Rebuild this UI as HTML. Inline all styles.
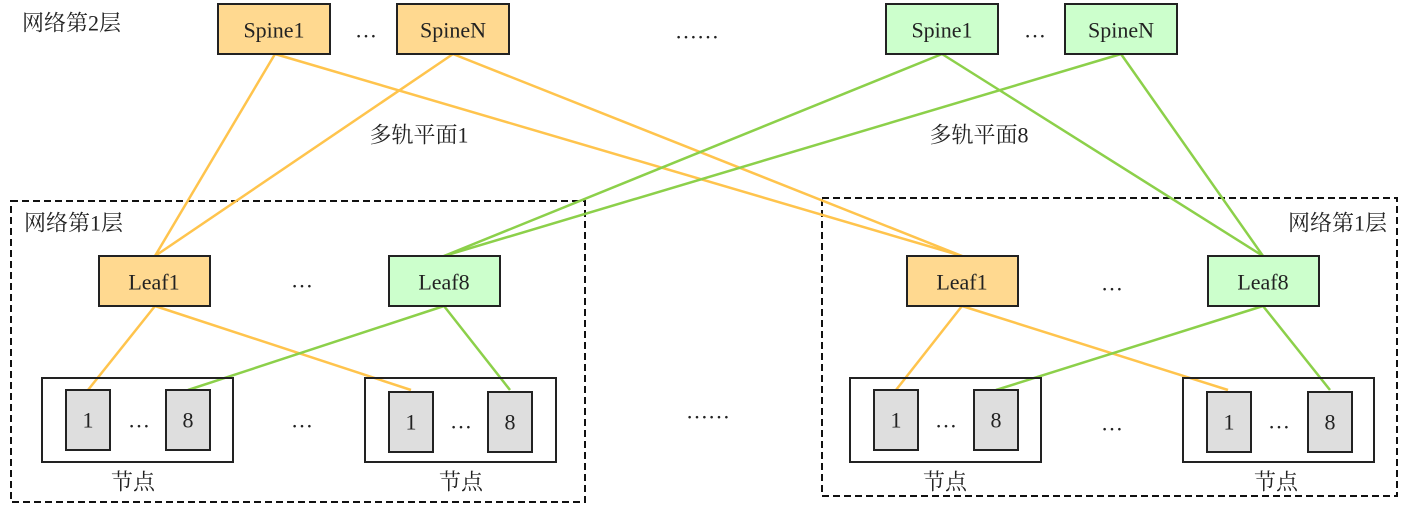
<!DOCTYPE html>
<html><head><meta charset="utf-8"><style>
html,body{margin:0;padding:0;background:#fff;width:1403px;height:506px;overflow:hidden}
svg text{font-family:"Liberation Serif","Noto Serif CJK SC",serif;font-size:22px;fill:#222}
</style></head><body>
<svg width="1403" height="506" viewBox="0 0 1403 506" xmlns="http://www.w3.org/2000/svg">
<rect x="11" y="201" width="574" height="301" fill="none" stroke="#111" stroke-width="2" stroke-dasharray="7,4"/>
<rect x="822" y="198" width="575" height="298" fill="none" stroke="#111" stroke-width="2" stroke-dasharray="7,4"/>
<g stroke="#FFC44D" stroke-width="2.5" fill="none">
<line x1="275" y1="54" x2="155" y2="256"/>
<line x1="275" y1="54" x2="962" y2="256"/>
<line x1="453" y1="54" x2="155" y2="256"/>
<line x1="453" y1="54" x2="962" y2="256"/>
<line x1="155" y1="306" x2="88" y2="390"/>
<line x1="155" y1="306" x2="411" y2="390"/>
<line x1="962" y1="306" x2="896" y2="390"/>
<line x1="962" y1="306" x2="1228" y2="390"/>
</g>
<g stroke="#8CD04A" stroke-width="2.5" fill="none">
<line x1="942" y1="54" x2="444" y2="256"/>
<line x1="942" y1="54" x2="1263" y2="256"/>
<line x1="1121" y1="54" x2="444" y2="256"/>
<line x1="1121" y1="54" x2="1263" y2="256"/>
<line x1="444" y1="306" x2="188" y2="390"/>
<line x1="444" y1="306" x2="510" y2="390"/>
<line x1="1263" y1="306" x2="996" y2="390"/>
<line x1="1263" y1="306" x2="1330" y2="390"/>
</g>
<g stroke="#222" stroke-width="2">
<rect x="218" y="4" width="112" height="50" fill="#FFD990"/>
<rect x="397" y="4" width="112" height="50" fill="#FFD990"/>
<rect x="886" y="4" width="112" height="50" fill="#CCFFCC"/>
<rect x="1065" y="4" width="112" height="50" fill="#CCFFCC"/>
<rect x="99" y="256" width="111" height="50" fill="#FFD990"/>
<rect x="389" y="256" width="111" height="50" fill="#CCFFCC"/>
<rect x="907" y="256" width="111" height="50" fill="#FFD990"/>
<rect x="1208" y="256" width="111" height="50" fill="#CCFFCC"/>
<rect x="42" y="378" width="191" height="84" fill="none"/>
<rect x="365" y="378" width="191" height="84" fill="none"/>
<rect x="850" y="378" width="191" height="84" fill="none"/>
<rect x="1183" y="378" width="191" height="84" fill="none"/>
<rect x="66" y="390" width="44" height="60" fill="#DEDEDE"/>
<rect x="166" y="390" width="44" height="60" fill="#DEDEDE"/>
<rect x="389" y="392" width="44" height="60" fill="#DEDEDE"/>
<rect x="488" y="392" width="44" height="60" fill="#DEDEDE"/>
<rect x="874" y="390" width="44" height="60" fill="#DEDEDE"/>
<rect x="974" y="390" width="44" height="60" fill="#DEDEDE"/>
<rect x="1207" y="392" width="44" height="60" fill="#DEDEDE"/>
<rect x="1308" y="392" width="44" height="60" fill="#DEDEDE"/>
</g>
<g text-anchor="middle" dominant-baseline="central">
<text x="274" y="30">Spine1</text>
<text x="453" y="30">SpineN</text>
<text x="942" y="30">Spine1</text>
<text x="1121" y="30">SpineN</text>
<text x="366" y="30">…</text>
<text x="1035" y="30">…</text>
<text x="697" y="31">……</text>
<text x="154" y="282">Leaf1</text>
<text x="444" y="282">Leaf8</text>
<text x="962" y="282">Leaf1</text>
<text x="1263" y="282">Leaf8</text>
<text x="302" y="280">…</text>
<text x="1112" y="283">…</text>
<text x="88" y="420">1</text>
<text x="188" y="420">8</text>
<text x="411" y="422">1</text>
<text x="510" y="422">8</text>
<text x="896" y="420">1</text>
<text x="996" y="420">8</text>
<text x="1229" y="422">1</text>
<text x="1330" y="422">8</text>
<text x="139" y="420">…</text>
<text x="461" y="421">…</text>
<text x="946" y="420">…</text>
<text x="1279" y="421">…</text>
<text x="302" y="420">…</text>
<text x="1112" y="423">…</text>
<text x="708" y="411">……</text>
<text x="133" y="482">节点</text>
<text x="461" y="482">节点</text>
<text x="945" y="482">节点</text>
<text x="1276" y="482">节点</text>
<text x="419" y="135">多轨平面1</text>
<text x="979" y="135">多轨平面8</text>
</g>
<g dominant-baseline="central">
<text x="22" y="23">网络第2层</text>
<text x="24" y="223">网络第1层</text>
<text x="1288" y="223">网络第1层</text>
</g>
</svg>
</body></html>
